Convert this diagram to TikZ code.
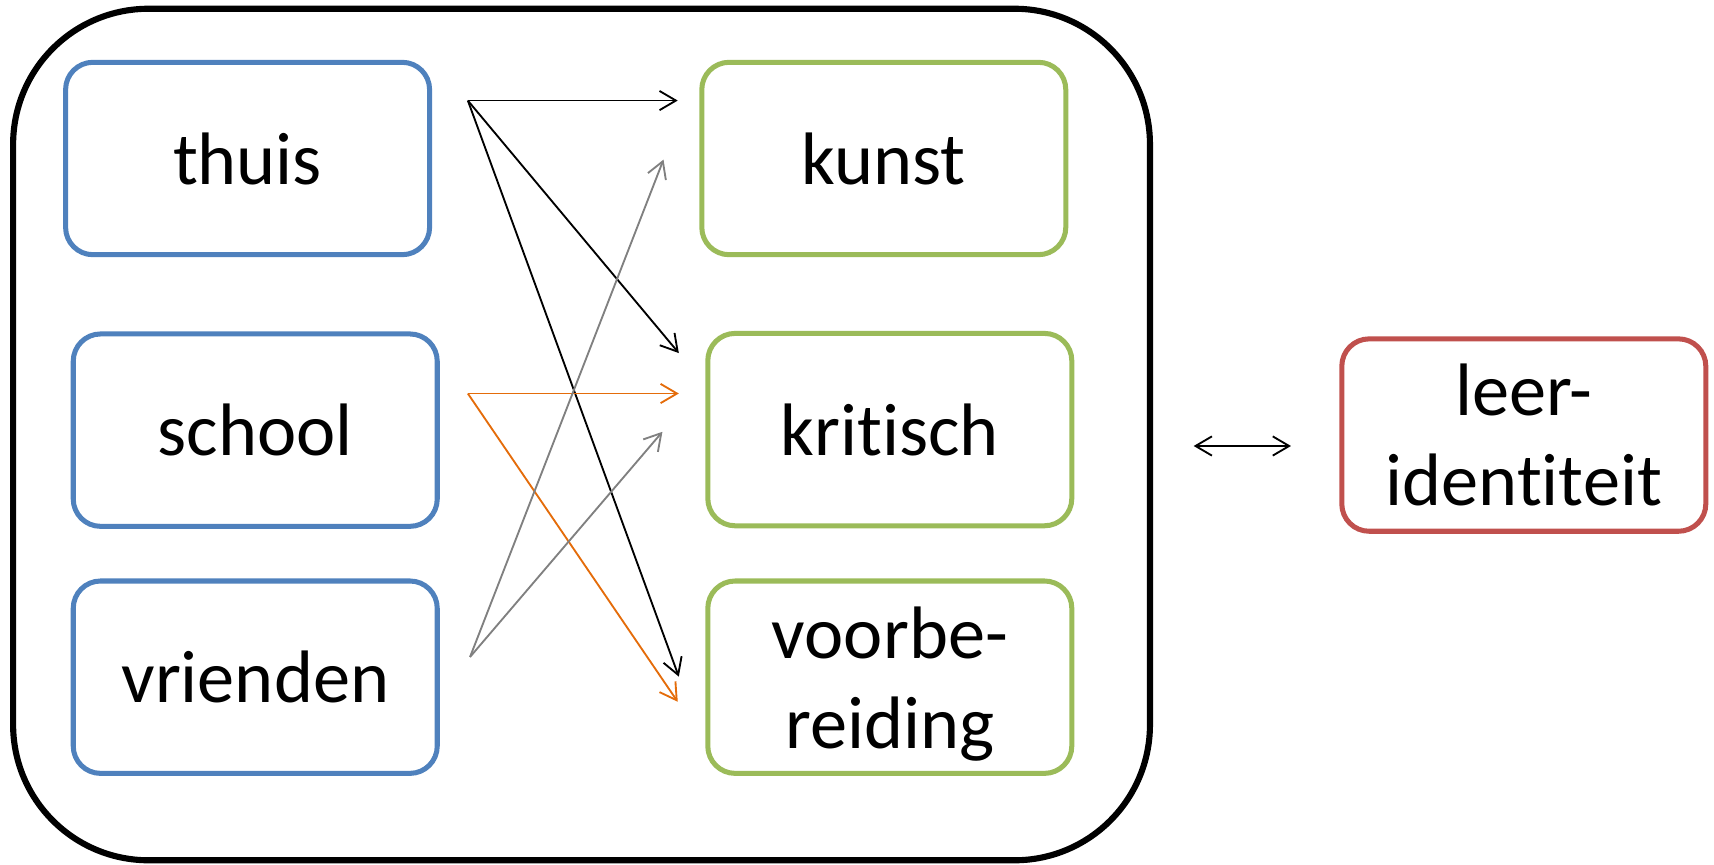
\documentclass[tikz,border=0pt]{standalone}
\usepackage{fontspec}
\setmainfont{Carlito}[Ligatures={NoCommon}]
\usetikzlibrary{arrows.meta}
\definecolor{boxblue}{HTML}{4F81BD}
\definecolor{boxgreen}{HTML}{9BBB59}
\definecolor{boxred}{HTML}{C0504D}
\definecolor{arrorange}{HTML}{E46C0A}
\definecolor{arrgray}{HTML}{808080}
\tikzset{
  card/.style={draw, line width=2.3pt, rounded corners=12.5pt, minimum width=166.5pt,
    minimum height=88pt, inner sep=0pt, align=center,
    font=\fontsize{34pt}{41pt}\selectfont},
  srcbox/.style={card, draw=boxblue},
  tgtbox/.style={card, draw=boxgreen},
  idbox/.style={card, draw=boxred},
  link/.style={line width=0.85pt, -{Straight Barb[length=7.5pt,width=8.8pt]}},
}
\begin{document}
\begin{tikzpicture}[x=0.5pt,y=-0.5pt]
\useasboundingbox (0,0) rectangle (1568,791.3);
\node[draw, line width=2.8pt, rounded corners=62pt, minimum width=520pt, minimum height=389.5pt] (frame) at (532,397.5) {};
\node[srcbox] (thuis) at (226.5,145) {thuis};
\node[srcbox] (school) at (233.5,393.5) {school};
\node[srcbox] (vrienden) at (233.5,619.5) {vrienden};
\node[tgtbox] (kunst) at (808.5,145) {kunst};
\node[tgtbox] (kritisch) at (814,393) {kritisch};
\node[tgtbox] (voorb) at (814,619.5) {\raisebox{6.5pt}{\vphantom{b}}voorbe-\\reiding};
\node[idbox] (leer) at (1394,398) {leer-\\identiteit};
\coordinate (tO) at (428,92);
\coordinate (tK) at (620,92);
\coordinate (tC) at (621,323);
\coordinate (tV) at (621,619);
\coordinate (sO) at (428,360);
\coordinate (sC) at (621,360);
\coordinate (sV) at (620,642);
\coordinate (vO) at (430,601);
\coordinate (vK) at (607,146);
\coordinate (vC) at (606,395);
\coordinate (dL) at (1092,408);
\coordinate (dR) at (1181,408);
\draw[link] (tO) -- (tK);
\draw[link] (tO) -- (tC);
\draw[link] (tO) -- (tV);
\draw[link, draw=arrorange] (sO) -- (sC);
\draw[link, draw=arrorange] (sO) -- (sV);
\draw[link, draw=arrgray] (vO) -- (vK);
\draw[link, draw=arrgray] (vO) -- (vC);
\draw[line width=0.85pt, {Straight Barb[length=7.5pt,width=8.8pt]}-{Straight Barb[length=7.5pt,width=8.8pt]}] (dL) -- (dR);
\end{tikzpicture}
\end{document}
